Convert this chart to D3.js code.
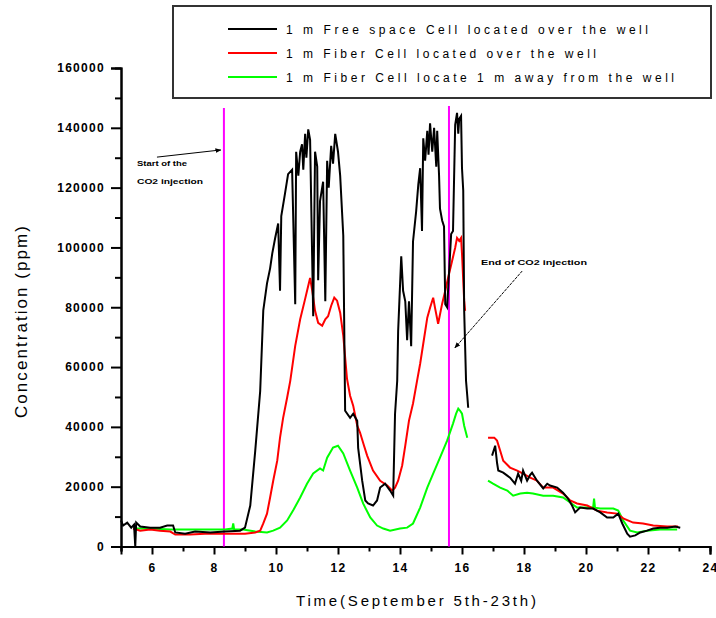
<!DOCTYPE html>
<html><head><meta charset="utf-8">
<script src="https://cdn.jsdelivr.net/npm/d3@7"></script>
<style>
html,body{margin:0;padding:0;background:#fff;}
svg{display:block;font-family:"Liberation Sans",Arial,sans-serif;}
</style></head>
<body>
<svg id="chart" width="716" height="618"></svg>
<script>
// ---- data ----
const seriesNames = [
  "1 m Free space Cell located over the well",
  "1 m Fiber Cell located over the well",
  "1 m Fiber Cell locate 1 m away from the well"
];
const seriesColors = ["#000000", "#ff0000", "#00ff00"];

const freeSpaceOverWell = [
  [5.0,8700],[5.07,7000],[5.2,8000],[5.33,6300],[5.42,7300],[5.46,0],[5.49,8000],[5.62,6700],[5.94,6300],[6.26,6300],[6.49,7000],[6.68,7000],[6.75,4700],[7.07,4300],[7.39,5000],[7.88,4700],[8.36,5000],[8.84,5300],[9.0,6300],[9.17,13700],[9.33,32000],[9.49,52000],[9.59,79000],[9.71,88000],[9.81,93000],[9.88,98000],[9.97,103000],[10.07,108000],[10.13,85500],[10.17,110500],[10.29,118000],[10.39,124500],[10.52,126000],[10.62,81000],[10.65,132000],[10.72,124000],[10.78,132000],[10.84,134500],[10.88,126000],[10.94,138000],[10.98,130000],[11.04,139500],[11.1,136000],[11.2,77000],[11.26,132000],[11.33,127000],[11.36,89000],[11.42,115500],[11.52,122000],[11.59,82000],[11.65,129000],[11.7,120000],[11.78,134000],[11.84,128000],[11.91,138000],[12.0,132000],[12.07,124000],[12.17,104000],[12.23,45400],[12.39,43000],[12.49,44400],[12.62,42000],[12.65,33000],[12.78,22000],[12.88,15400],[12.97,14400],[13.13,13700],[13.26,15400],[13.36,19700],[13.52,21000],[13.68,18700],[13.78,17000],[13.84,44400],[13.91,55400],[13.94,72000],[14.04,97000],[14.1,85500],[14.17,82000],[14.23,69000],[14.29,82000],[14.36,67000],[14.42,102000],[14.52,112000],[14.59,121000],[14.65,126500],[14.71,105500],[14.75,136500],[14.81,129000],[14.88,139000],[14.92,131000],[14.97,141500],[15.04,132000],[15.1,140000],[15.17,127000],[15.2,139000],[15.26,124000],[15.29,113000],[15.36,109000],[15.42,107000],[15.46,81000],[15.52,80000],[15.55,85500],[15.65,104500],[15.71,105500],[15.78,141000],[15.84,145000],[15.88,138000],[15.91,143000],[15.97,144000],[16.0,126500],[16.04,119000],[16.07,79000],[16.13,55400],[16.17,50400],[16.2,46400],
  null,
  [16.97,30400],[17.04,32700],[17.07,33700],[17.13,28000],[17.17,25400],[17.33,24700],[17.46,23700],[17.55,23000],[17.71,21000],[17.81,24400],[17.91,22000],[17.97,25400],[18.1,22000],[18.2,24000],[18.26,24700],[18.42,22000],[18.62,19400],[18.75,21000],[18.84,20400],[19.07,19700],[19.26,18000],[19.42,16000],[19.55,13700],[19.65,11400],[19.81,13000],[20.04,12700],[20.23,12700],[20.46,11400],[20.68,9700],[20.88,9700],[21.04,11000],[21.17,7700],[21.33,4300],[21.42,3300],[21.59,3700],[21.75,4700],[21.97,5300],[22.17,6000],[22.39,6300],[22.62,6300],[22.88,6700],[23.04,6300]
];

const fiberOverWell = [
  [5.39,6000],[5.62,5300],[5.94,5700],[6.26,5300],[6.59,5000],[6.75,4000],[7.23,4000],[7.71,4300],[8.2,4300],[8.68,4300],[9.0,4300],[9.33,4700],[9.49,5300],[9.59,7700],[9.71,11000],[9.81,16400],[9.91,22000],[10.04,28700],[10.13,36400],[10.23,43000],[10.36,49800],[10.46,55400],[10.62,67100],[10.78,76000],[10.94,82800],[11.04,87200],[11.1,89800],[11.17,85500],[11.26,78800],[11.36,74800],[11.49,73800],[11.59,76000],[11.68,77000],[11.78,80500],[11.88,83200],[11.97,82200],[12.07,78200],[12.17,70500],[12.29,56100],[12.39,50400],[12.49,47100],[12.62,40400],[12.71,38100],[12.84,33700],[12.94,30400],[13.13,25400],[13.36,22000],[13.59,20400],[13.75,18700],[13.84,19700],[13.94,22000],[14.07,27100],[14.17,33700],[14.29,42100],[14.42,47800],[14.55,55400],[14.65,61100],[14.75,67800],[14.88,76500],[14.97,79800],[15.07,83200],[15.13,79800],[15.23,74500],[15.36,81200],[15.46,85500],[15.55,89800],[15.68,95500],[15.78,99900],[15.84,103200],[15.91,102200],[15.97,103200],[16.0,97900],[16.07,82200],[16.1,78800],
  null,
  [16.84,36400],[17.04,36400],[17.13,35400],[17.23,32100],[17.33,28700],[17.55,26400],[17.78,25400],[17.97,24400],[18.2,23000],[18.42,22000],[18.62,19700],[18.94,19700],[19.26,17700],[19.49,15400],[19.71,14400],[20.04,13700],[20.36,12000],[20.68,11400],[21.0,11000],[21.2,9400],[21.52,8000],[21.84,7700],[22.17,7000],[22.62,6700],[22.97,6700]
];

const fiberAwayFromWell = [
  [5.39,6000],[5.94,6000],[6.59,5700],[7.23,5700],[7.88,5700],[8.36,5700],[8.59,6000],[8.62,7700],[8.65,5700],[8.94,5700],[9.33,5000],[9.71,4700],[9.91,5300],[10.13,6300],[10.36,8700],[10.55,12000],[10.78,16400],[11.0,21000],[11.2,24400],[11.42,26100],[11.52,25400],[11.65,29700],[11.84,33100],[12.0,33700],[12.17,31100],[12.39,25400],[12.62,19700],[12.81,14400],[13.04,9700],[13.26,7000],[13.46,6000],[13.68,5300],[14.0,6000],[14.23,6300],[14.42,7700],[14.65,13000],[14.88,19700],[15.07,24400],[15.29,29700],[15.52,35400],[15.71,41100],[15.81,44400],[15.88,46100],[15.94,45400],[16.0,44400],[16.07,40400],[16.17,36400],
  null,
  [16.84,22000],[17.0,21000],[17.23,19700],[17.46,18700],[17.65,17000],[17.88,17700],[18.1,18000],[18.29,17700],[18.62,17000],[18.94,17000],[19.26,16400],[19.49,14700],[19.71,13000],[20.04,13000],[20.23,13000],[20.26,16000],[20.29,13000],[20.46,12700],[20.88,12700],[21.04,12000],[21.2,8700],[21.42,5300],[21.65,4700],[21.97,5300],[22.39,5700],[22.94,5700]
];

const injectionDays = [8.32, 15.58];
const injectionTops = [146600, 147300];

const xMajorTicks = [6, 8, 10, 12, 14, 16, 18, 20, 22, 24];
const xMinorTicks = [5, 7, 9, 11, 13, 15, 17, 19, 21, 23];
const yMajorTicks = [0, 20000, 40000, 60000, 80000, 100000, 120000, 140000, 160000];
const yMinorTicks = [10000, 30000, 50000, 70000, 90000, 110000, 130000, 150000];

const xTitle = "Time(September 5th-23th)";
const yTitle = "Concentration (ppm)";
const startNote = ["Start of the", "CO2 injection"];
const endNote = "End of CO2 injection";
const startArrow = [[6.16, 130200], [8.22, 132600]];
const endArrow = [[17.94, 92100], [15.77, 66400]];

// ---- drawing ----
const svg = d3.select("#chart");
const x = d3.scaleLinear().domain([5, 24]).range([121, 710]);
const y = d3.scaleLinear().domain([0, 160000]).range([546.5, 68]);

const defs = svg.append("defs");
defs.append("marker").attr("id", "ah").attr("viewBox", "0 0 10 10")
  .attr("refX", 9).attr("refY", 5).attr("markerWidth", 6).attr("markerHeight", 6)
  .attr("orient", "auto")
  .append("path").attr("d", "M0,1 L10,5 L0,9 Z").attr("fill", "#000");

// axes
const tickFont = g => g.selectAll("text")
  .attr("font-family", "Liberation Sans, Arial, sans-serif")
  .attr("font-weight", "bold").attr("font-size", 12)
  .attr("letter-spacing", 1.3).attr("fill", "#000");

const yAxis = svg.append("g").attr("transform", "translate(121,0)")
  .call(d3.axisLeft(y).tickValues(yMajorTicks).tickSize(10).tickPadding(6).tickFormat(d3.format("d")));
yAxis.call(tickFont);
svg.append("g").attr("transform", "translate(121,0)")
  .call(d3.axisLeft(y).tickValues(yMinorTicks).tickSize(6).tickFormat(""));

const xAxis = svg.append("g").attr("transform", "translate(0,546.5)")
  .call(d3.axisBottom(x).tickValues(xMajorTicks).tickSize(8).tickPadding(9).tickFormat(d3.format("d")));
xAxis.call(tickFont);
svg.append("g").attr("transform", "translate(0,546.5)")
  .call(d3.axisBottom(x).tickValues(xMinorTicks).tickSize(5).tickFormat(""));

svg.selectAll(".domain").attr("stroke", "#000").attr("stroke-width", 2);
svg.selectAll(".tick line").attr("stroke", "#000").attr("stroke-width", 2);

// titles
svg.append("text").attr("x", 416).attr("y", 606).attr("text-anchor", "middle")
  .attr("font-size", 15).attr("textLength", 240).attr("lengthAdjust", "spacing").text(xTitle);
svg.append("text").attr("transform", "translate(27,322) rotate(-90)")
  .attr("text-anchor", "middle").attr("font-size", 17)
  .attr("textLength", 192).attr("lengthAdjust", "spacing").text(yTitle);

// injection markers
svg.append("g").selectAll("line").data(injectionDays).join("line")
  .attr("x1", d => x(d)).attr("x2", d => x(d))
  .attr("y1", y(0)).attr("y2", (d, i) => y(injectionTops[i]))
  .attr("stroke", "#ff00ff").attr("stroke-width", 2);

// series
const line = d3.line().defined(d => d !== null).x(d => x(d[0])).y(d => y(d[1]));
const allSeries = [fiberAwayFromWell, fiberOverWell, freeSpaceOverWell];
const allColors = [seriesColors[2], seriesColors[1], seriesColors[0]];
svg.append("g").selectAll("path").data(allSeries).join("path")
  .attr("d", line).attr("fill", "none")
  .attr("stroke", (d, i) => allColors[i]).attr("stroke-width", 2)
  .attr("stroke-linejoin", "miter");

// annotations
const note = svg.append("g").attr("font-size", 8).attr("font-weight", "bold");
note.append("text").attr("x", 137).attr("y", 166).attr("textLength", 50).attr("lengthAdjust", "spacingAndGlyphs").text(startNote[0]);
note.append("text").attr("x", 137).attr("y", 184).attr("textLength", 66).attr("lengthAdjust", "spacingAndGlyphs").text(startNote[1]);
note.append("text").attr("x", 481).attr("y", 265).attr("textLength", 106).attr("lengthAdjust", "spacingAndGlyphs").text(endNote);

svg.append("line").attr("x1", x(startArrow[0][0])).attr("y1", y(startArrow[0][1]))
  .attr("x2", x(startArrow[1][0])).attr("y2", y(startArrow[1][1]))
  .attr("stroke", "#000").attr("stroke-width", 1).attr("marker-end", "url(#ah)");
svg.append("line").attr("x1", x(endArrow[0][0])).attr("y1", y(endArrow[0][1]))
  .attr("x2", x(endArrow[1][0])).attr("y2", y(endArrow[1][1]))
  .attr("stroke", "#000").attr("stroke-width", 1).attr("stroke-dasharray", "3,1").attr("marker-end", "url(#ah)");

// legend
const lg = svg.append("g");
lg.append("rect").attr("x", 173).attr("y", 6).attr("width", 538).attr("height", 92)
  .attr("fill", "#fff").attr("stroke", "#333").attr("stroke-width", 2);
const legendRowsY = [29, 53, 77];
const legendTextLen = [362, 310, 388];
seriesNames.forEach((name, i) => {
  lg.append("line").attr("x1", 228).attr("x2", 277).attr("y1", legendRowsY[i]).attr("y2", legendRowsY[i])
    .attr("stroke", seriesColors[i]).attr("stroke-width", 2);
  lg.append("text").attr("x", 286).attr("y", legendRowsY[i] + 4.5).attr("font-size", 12)
    .attr("textLength", legendTextLen[i]).attr("lengthAdjust", "spacing").text(name);
});
</script>
</body></html>
